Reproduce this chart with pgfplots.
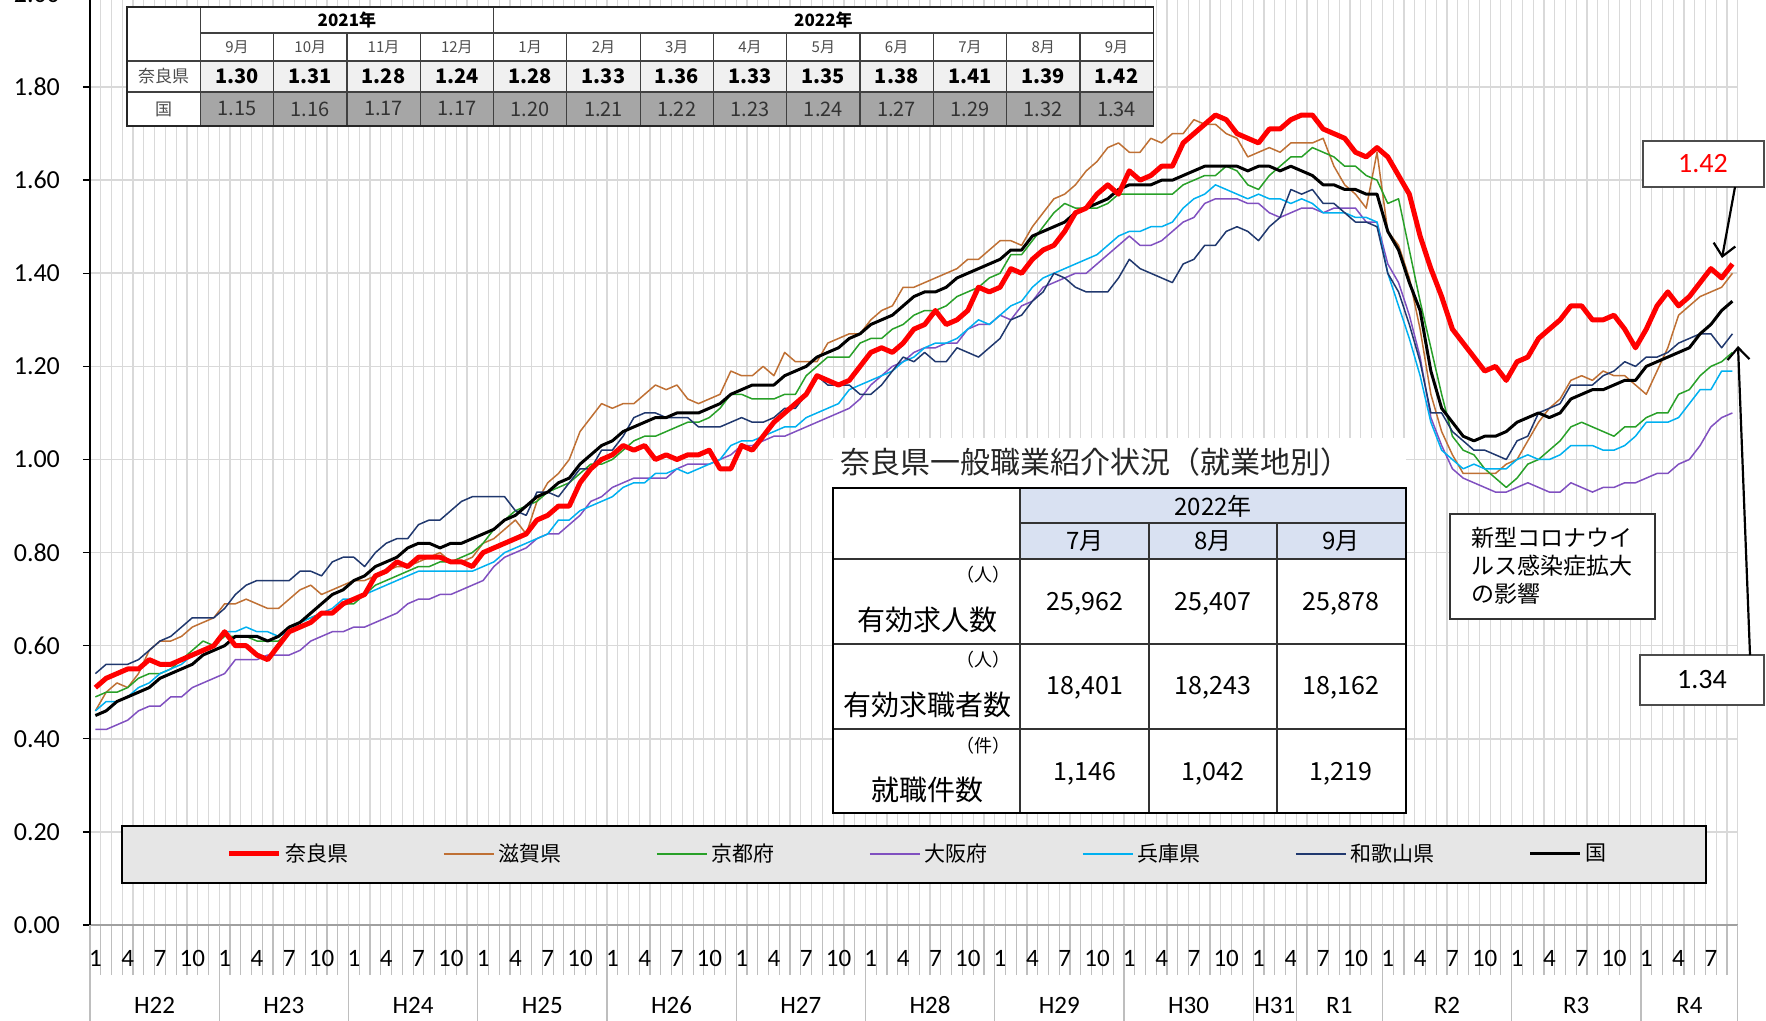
\documentclass[border=0pt]{standalone}
\usepackage{fontspec}
\setmainfont{Carlito}
\newfontfamily\jp{Noto Sans CJK JP}
\usepackage{pgfplots}
\pgfplotsset{compat=1.18}
\usepackage{pgfplotstable}
\usetikzlibrary{arrows.meta}

\definecolor{naracol}{RGB}{255,0,0}
\definecolor{shigacol}{RGB}{191,112,52}
\definecolor{kyotocol}{RGB}{40,160,40}
\definecolor{osakacol}{RGB}{128,80,192}
\definecolor{hyogocol}{RGB}{0,176,240}
\definecolor{wakacol}{RGB}{32,56,110}
\definecolor{gridgray}{RGB}{217,217,217}
\definecolor{axgray}{RGB}{160,160,160}
\definecolor{tickgray}{RGB}{190,190,190}
\definecolor{leggray}{RGB}{230,230,230}
\definecolor{hdrblue}{RGB}{217,225,242}
\definecolor{rowlight}{RGB}{240,240,240}
\definecolor{rowdark}{RGB}{166,166,166}

\pgfplotstableread{
nara shiga kyoto osaka hyogo waka kuni
0.51 0.46 0.49 0.42 0.46 0.54 0.45
0.53 0.50 0.50 0.42 0.48 0.56 0.46
0.54 0.52 0.50 0.43 0.48 0.56 0.48
0.55 0.51 0.51 0.44 0.49 0.56 0.49
0.55 0.54 0.53 0.46 0.51 0.57 0.50
0.57 0.59 0.54 0.47 0.52 0.59 0.51
0.56 0.61 0.54 0.47 0.54 0.61 0.53
0.56 0.61 0.55 0.49 0.55 0.62 0.54
0.57 0.62 0.57 0.49 0.56 0.64 0.55
0.58 0.64 0.59 0.51 0.58 0.66 0.56
0.59 0.65 0.61 0.52 0.59 0.66 0.58
0.60 0.66 0.60 0.53 0.60 0.66 0.59
0.63 0.69 0.62 0.54 0.63 0.68 0.60
0.60 0.69 0.62 0.57 0.63 0.71 0.62
0.60 0.70 0.62 0.57 0.64 0.73 0.62
0.58 0.69 0.61 0.57 0.63 0.74 0.62
0.57 0.68 0.61 0.58 0.63 0.74 0.61
0.60 0.68 0.61 0.58 0.62 0.74 0.62
0.63 0.70 0.63 0.58 0.63 0.74 0.64
0.64 0.72 0.65 0.59 0.65 0.76 0.65
0.65 0.73 0.66 0.61 0.66 0.76 0.67
0.67 0.71 0.67 0.62 0.67 0.75 0.69
0.67 0.72 0.67 0.63 0.68 0.78 0.71
0.69 0.73 0.69 0.63 0.70 0.79 0.72
0.70 0.74 0.69 0.64 0.70 0.79 0.74
0.71 0.74 0.71 0.64 0.71 0.77 0.75
0.75 0.75 0.73 0.65 0.72 0.80 0.77
0.76 0.76 0.74 0.66 0.73 0.82 0.78
0.78 0.77 0.75 0.67 0.74 0.83 0.79
0.77 0.77 0.76 0.69 0.75 0.83 0.81
0.79 0.78 0.77 0.70 0.76 0.86 0.82
0.79 0.79 0.77 0.70 0.76 0.87 0.82
0.79 0.80 0.78 0.71 0.76 0.87 0.81
0.78 0.78 0.78 0.71 0.76 0.89 0.82
0.78 0.78 0.79 0.72 0.76 0.91 0.82
0.77 0.79 0.80 0.73 0.76 0.92 0.83
0.80 0.82 0.82 0.74 0.77 0.92 0.84
0.81 0.83 0.85 0.77 0.78 0.92 0.85
0.82 0.85 0.87 0.79 0.80 0.92 0.87
0.83 0.87 0.89 0.80 0.81 0.89 0.88
0.84 0.84 0.90 0.81 0.82 0.88 0.90
0.87 0.91 0.91 0.83 0.83 0.93 0.92
0.88 0.95 0.93 0.84 0.84 0.93 0.93
0.90 0.97 0.94 0.84 0.87 0.92 0.95
0.90 1.00 0.95 0.86 0.87 0.95 0.96
0.95 1.06 0.97 0.88 0.89 0.98 0.99
0.98 1.09 0.99 0.91 0.90 0.98 1.01
1.00 1.12 0.99 0.92 0.91 1.02 1.03
1.01 1.11 1.00 0.94 0.92 1.02 1.04
1.03 1.12 1.02 0.95 0.94 1.05 1.06
1.02 1.12 1.04 0.96 0.95 1.09 1.07
1.03 1.14 1.05 0.96 0.95 1.10 1.08
1.00 1.16 1.05 0.96 0.97 1.10 1.09
1.01 1.15 1.06 0.96 0.97 1.09 1.09
1.00 1.16 1.07 0.98 0.98 1.09 1.10
1.01 1.13 1.08 0.99 0.97 1.09 1.10
1.01 1.12 1.08 0.99 0.98 1.07 1.10
1.02 1.13 1.09 0.99 0.99 1.07 1.11
0.98 1.14 1.11 1.00 1.00 1.07 1.12
0.98 1.19 1.14 1.01 1.03 1.08 1.14
1.03 1.18 1.14 1.03 1.04 1.09 1.15
1.02 1.18 1.13 1.03 1.04 1.08 1.16
1.05 1.20 1.13 1.04 1.05 1.08 1.16
1.08 1.18 1.13 1.05 1.06 1.09 1.16
1.10 1.23 1.14 1.05 1.07 1.11 1.18
1.12 1.21 1.14 1.06 1.07 1.11 1.19
1.14 1.21 1.18 1.07 1.09 1.14 1.20
1.18 1.21 1.20 1.08 1.10 1.18 1.22
1.17 1.25 1.22 1.09 1.11 1.16 1.23
1.16 1.26 1.22 1.10 1.12 1.16 1.24
1.17 1.27 1.22 1.11 1.15 1.16 1.26
1.20 1.27 1.25 1.13 1.16 1.14 1.27
1.23 1.30 1.26 1.16 1.17 1.14 1.29
1.24 1.32 1.26 1.18 1.18 1.16 1.30
1.23 1.33 1.28 1.20 1.19 1.19 1.31
1.25 1.37 1.29 1.21 1.21 1.22 1.33
1.28 1.37 1.31 1.23 1.22 1.21 1.35
1.29 1.38 1.32 1.24 1.24 1.23 1.36
1.32 1.39 1.32 1.24 1.25 1.21 1.36
1.29 1.40 1.33 1.25 1.25 1.21 1.37
1.30 1.41 1.35 1.25 1.26 1.24 1.39
1.32 1.43 1.36 1.28 1.28 1.23 1.40
1.37 1.43 1.37 1.29 1.30 1.22 1.41
1.36 1.45 1.39 1.29 1.29 1.24 1.42
1.37 1.47 1.40 1.31 1.31 1.26 1.43
1.41 1.47 1.44 1.30 1.33 1.30 1.45
1.40 1.46 1.44 1.33 1.34 1.31 1.45
1.43 1.50 1.47 1.34 1.37 1.34 1.48
1.45 1.53 1.50 1.37 1.39 1.36 1.49
1.46 1.56 1.53 1.38 1.40 1.40 1.50
1.49 1.57 1.55 1.39 1.41 1.39 1.51
1.53 1.59 1.54 1.40 1.42 1.37 1.53
1.54 1.62 1.54 1.40 1.43 1.36 1.54
1.57 1.64 1.54 1.42 1.44 1.36 1.55
1.59 1.67 1.55 1.44 1.46 1.36 1.56
1.57 1.68 1.57 1.46 1.48 1.39 1.58
1.62 1.66 1.57 1.48 1.49 1.43 1.59
1.60 1.66 1.57 1.46 1.49 1.41 1.59
1.61 1.69 1.57 1.46 1.50 1.40 1.59
1.63 1.68 1.57 1.47 1.50 1.39 1.60
1.63 1.70 1.57 1.49 1.51 1.38 1.60
1.68 1.70 1.59 1.51 1.54 1.42 1.61
1.70 1.73 1.60 1.52 1.56 1.43 1.62
1.72 1.72 1.61 1.55 1.57 1.46 1.63
1.74 1.72 1.61 1.56 1.59 1.46 1.63
1.73 1.70 1.63 1.56 1.58 1.49 1.63
1.70 1.69 1.62 1.56 1.57 1.50 1.63
1.69 1.65 1.59 1.55 1.56 1.49 1.62
1.68 1.66 1.58 1.55 1.57 1.47 1.63
1.71 1.67 1.61 1.53 1.56 1.50 1.63
1.71 1.66 1.63 1.52 1.56 1.52 1.62
1.73 1.68 1.65 1.53 1.55 1.58 1.63
1.74 1.68 1.65 1.54 1.56 1.57 1.62
1.74 1.68 1.67 1.54 1.55 1.58 1.61
1.71 1.69 1.66 1.53 1.53 1.55 1.59
1.70 1.63 1.65 1.54 1.53 1.55 1.59
1.69 1.59 1.63 1.54 1.53 1.53 1.58
1.66 1.57 1.63 1.54 1.52 1.51 1.58
1.65 1.54 1.61 1.51 1.52 1.51 1.57
1.67 1.66 1.60 1.51 1.51 1.50 1.57
1.65 1.49 1.55 1.42 1.40 1.40 1.49
1.61 1.46 1.56 1.38 1.33 1.36 1.45
1.57 1.39 1.45 1.31 1.26 1.29 1.38
1.48 1.28 1.34 1.22 1.18 1.21 1.32
1.41 1.14 1.24 1.09 1.08 1.10 1.19
1.35 1.06 1.14 1.03 1.02 1.10 1.11
1.28 1.01 1.05 0.98 1.00 1.06 1.08
1.25 0.97 1.02 0.96 0.98 1.04 1.05
1.22 0.97 1.01 0.95 0.99 1.02 1.04
1.19 0.97 0.98 0.94 0.98 1.02 1.05
1.20 0.97 0.96 0.93 0.98 1.01 1.05
1.17 0.99 0.94 0.93 0.98 1.00 1.06
1.21 1.00 0.96 0.94 1.00 1.04 1.08
1.22 1.04 0.99 0.95 1.01 1.05 1.09
1.26 1.08 1.00 0.94 1.00 1.10 1.10
1.28 1.11 1.02 0.93 1.00 1.11 1.09
1.30 1.13 1.04 0.93 1.01 1.12 1.10
1.33 1.17 1.07 0.95 1.03 1.16 1.13
1.33 1.18 1.08 0.94 1.03 1.16 1.14
1.30 1.17 1.07 0.93 1.03 1.16 1.15
1.30 1.19 1.06 0.94 1.02 1.18 1.15
1.31 1.18 1.05 0.94 1.02 1.19 1.16
1.28 1.18 1.07 0.95 1.03 1.21 1.17
1.24 1.16 1.07 0.95 1.05 1.20 1.17
1.28 1.14 1.09 0.96 1.08 1.22 1.20
1.33 1.19 1.10 0.97 1.08 1.22 1.21
1.36 1.24 1.10 0.97 1.08 1.23 1.22
1.33 1.31 1.14 0.99 1.09 1.25 1.23
1.35 1.33 1.15 1.00 1.12 1.26 1.24
1.38 1.35 1.18 1.03 1.15 1.27 1.27
1.41 1.36 1.20 1.07 1.15 1.27 1.29
1.39 1.37 1.21 1.09 1.19 1.24 1.32
1.42 1.40 1.23 1.10 1.19 1.27 1.34
}\ratios

\begin{document}
\begin{tikzpicture}
\begin{axis}[
  at={(0,0)}, anchor=south west,
  scale only axis, width=823.9pt, height=465.5pt,
  xmin=0, xmax=153, ymin=0, ymax=2,
  axis x line*=bottom, axis y line*=left,
  x axis line style={draw=axgray, line width=1pt, -},
  y axis line style={draw=black, line width=0.7pt, -},
  ytick={0,0.2,0.4,0.6,0.8,1.0,1.2,1.4,1.6,1.8,2.0},
  /pgf/number format/.cd, fixed, fixed zerofill, precision=2, assume math mode=true, /pgfplots/.cd,
  yticklabel style={font=\fontsize{13}{15}\selectfont, xshift=-8pt},
  ymajorgrids, major grid style={draw=gridgray, line width=0.8pt},
  xtick={0.5,3.5,...,150.5},
  xticklabels={1,4,7,10,1,4,7,10,1,4,7,10,1,4,7,10,1,4,7,10,1,4,7,10,1,4,7,10,1,4,7,10,1,4,7,10,1,4,7,10,1,4,7,10,1,4,7,10,1,4,7},
  xticklabel style={font=\fontsize{12.5}{14}\selectfont, anchor=center, yshift=-13pt},
  minor xtick={0,1,...,153},
  xminorgrids, minor grid style={draw=gridgray, line width=0.6pt},
  tick align=outside, major tick length=3.5pt, minor tick length=25pt,
  major x tick style={draw=none},
  minor x tick style={draw=tickgray, line width=0.6pt},
  ytick style={draw=black, line width=0.7pt},
  every axis plot/.append style={line join=round},
  legend columns=7,
  legend cell align=left,
  legend image code/.code={\draw[#1] (0pt,0pt) -- (25pt,0pt);},
  legend style={at={(0.503,0.0763)}, anchor=center, draw=none, fill=none,
    font=\jp\fontsize{10.5}{12}\selectfont,
    /tikz/every even column/.append style={column sep=45pt}},
]
\draw[fill=leggray, draw=black, line width=1pt] (axis cs:2.97,0.2127) rectangle (axis cs:150.05,0.0902);

\addplot[shigacol, line width=0.75pt, forget plot] table[x expr=\coordindex+0.5, y=shiga]{\ratios};
\addplot[kyotocol, line width=0.75pt, forget plot] table[x expr=\coordindex+0.5, y=kyoto]{\ratios};
\addplot[osakacol, line width=0.75pt, forget plot] table[x expr=\coordindex+0.5, y=osaka]{\ratios};
\addplot[hyogocol, line width=0.75pt, forget plot] table[x expr=\coordindex+0.5, y=hyogo]{\ratios};
\addplot[wakacol, line width=0.75pt, forget plot] table[x expr=\coordindex+0.5, y=waka]{\ratios};
\addplot[black, line width=1.5pt, forget plot] table[x expr=\coordindex+0.5, y=kuni]{\ratios};
\addplot[naracol, line width=2.5pt, forget plot] table[x expr=\coordindex+0.5, y=nara]{\ratios};

\addlegendimage{naracol, line width=2.5pt}\addlegendentry{奈良県}
\addlegendimage{shigacol, line width=1pt}\addlegendentry{滋賀県}
\addlegendimage{kyotocol, line width=1pt}\addlegendentry{京都府}
\addlegendimage{osakacol, line width=1pt}\addlegendentry{大阪府}
\addlegendimage{hyogocol, line width=1pt}\addlegendentry{兵庫県}
\addlegendimage{wakacol, line width=1pt}\addlegendentry{和歌山県}
\addlegendimage{black, line width=1.5pt}\addlegendentry{国}
\end{axis}

\begin{scope}[shift={(-45pt,462.5pt)}, x=0.5pt, y=-0.5pt]
  % year separators and labels below the axis
  \foreach \k in {0,12,24,36,48,60,72,84,96,108,112,120,132,144,153}
    \draw[tickgray, line width=0.6pt] ({90+10.77*\k},925) -- ({90+10.77*\k},1021);
  \foreach \c/\t in {6/H22,18/H23,30/H24,42/H25,54/H26,66/H27,78/H28,90/H29,102/H30,110/H31,116/R1,126/R2,138/R3,148.5/R4}
    \node[font=\fontsize{12.5}{14}\selectfont, inner sep=1pt] at ({90+10.77*\c},1005) {\t};

  % top summary table
  \fill[white] (127,7) rectangle (1153.2,126);
  \fill[rowlight] (200.3,61) rectangle (1153.2,92);
  \fill[rowdark] (200.3,92) rectangle (1153.2,126);
  \draw[black!75, line width=0.6pt] (127,61) -- (1153.2,61);
  \draw[black!75, line width=0.6pt] (127,92) -- (1153.2,92);
  \draw[black!75, line width=0.6pt] (200.3,33) -- (1153.2,33);
  \draw[black!75, line width=0.6pt] (200.3,7) -- (200.3,126);
  \draw[black!75, line width=0.6pt] (493.5,7) -- (493.5,126);
  \foreach \k in {2,3,4,6,7,8,9,10,11,12,13}
    \draw[black!75, line width=0.6pt] ({127+73.3*\k},33) -- ({127+73.3*\k},126);
  \draw[black!85, line width=0.7pt] (127,7) rectangle (1153.2,126);
  \node[font=\jp\bfseries\fontsize{8.5}{10}\selectfont] at (346.9,20) {2021年};
  \node[font=\jp\bfseries\fontsize{8.5}{10}\selectfont] at (823.4,20) {2022年};
  \foreach \m [count=\k] in {9月,10月,11月,12月,1月,2月,3月,4月,5月,6月,7月,8月,9月}
    \node[font=\jp\fontsize{7.5}{9}\selectfont, text=black!70] at ({127+73.3*\k+36.65},47) {\m};
  \foreach \v [count=\k] in {1.30,1.31,1.28,1.24,1.28,1.33,1.36,1.33,1.35,1.38,1.41,1.39,1.42}
    \node[font=\jp\bfseries\fontsize{10}{12}\selectfont] at ({127+73.3*\k+36.65},76.5) {\v};
  \foreach \v [count=\k] in {1.15,1.16,1.17,1.17,1.20,1.21,1.22,1.23,1.24,1.27,1.29,1.32,1.34}
    \node[font=\jp\fontsize{10}{12}\selectfont, text=black!80] at ({127+73.3*\k+36.65},109) {\v};
  \node[font=\jp\fontsize{8.5}{10}\selectfont, text=black!70] at (163.6,76.5) {奈良県};
  \node[font=\jp\fontsize{8.5}{10}\selectfont, text=black!70] at (163.6,109) {国};

  % inner table
  \fill[white] (833,438) rectangle (1406,813);
  \node[font=\jp\fontsize{15}{17}\selectfont, text=black!85] at (1095,462) {奈良県一般職業紹介状況（就業地別）};
  \fill[hdrblue] (1020,488) rectangle (1406,559);
  \draw[black!80, line width=0.6pt] (1020,523) -- (1406,523);
  \draw[black!80, line width=0.6pt] (833,559) -- (1406,559);
  \draw[black!80, line width=0.6pt] (833,644) -- (1406,644);
  \draw[black!80, line width=0.6pt] (833,729) -- (1406,729);
  \draw[black!80, line width=0.6pt] (1020,488) -- (1020,813);
  \draw[black!80, line width=0.6pt] (1149,523) -- (1149,813);
  \draw[black!80, line width=0.6pt] (1277,523) -- (1277,813);
  \draw[black, line width=1pt] (833,488) rectangle (1406,813);
  \node[font=\jp\fontsize{12}{14}\selectfont] at (1213,506) {2022年};
  \node[font=\jp\fontsize{12}{14}\selectfont] at (1085,541) {7月};
  \node[font=\jp\fontsize{12}{14}\selectfont] at (1213,541) {8月};
  \node[font=\jp\fontsize{12}{14}\selectfont] at (1341,541) {9月};
  \foreach \x/\v in {1085/{25,962},1213/{25,407},1341/{25,878}}
    \node[font=\jp\fontsize{12.5}{14}\selectfont] at (\x,604) {\v};
  \foreach \x/\v in {1085/{18,401},1213/{18,243},1341/{18,162}}
    \node[font=\jp\fontsize{12.5}{14}\selectfont] at (\x,688) {\v};
  \foreach \x/\v in {1085/{1,146},1213/{1,042},1341/{1,219}}
    \node[font=\jp\fontsize{12.5}{14}\selectfont] at (\x,774) {\v};
  \node[font=\jp\fontsize{9}{10}\selectfont, anchor=east] at (1018,575) {（人）};
  \node[font=\jp\fontsize{9}{10}\selectfont, anchor=east] at (1018,660) {（人）};
  \node[font=\jp\fontsize{9}{10}\selectfont, anchor=east] at (1018,746) {（件）};
  \node[font=\jp\fontsize{14}{16}\selectfont] at (927,620) {有効求人数};
  \node[font=\jp\fontsize{14}{16}\selectfont] at (927,705) {有効求職者数};
  \node[font=\jp\fontsize{14}{16}\selectfont] at (927,790) {就職件数};

  % corona note
  \draw[fill=white, draw=black!80, line width=0.6pt] (1450,514) rectangle (1655,619);
  \node[font=\jp\fontsize{11.5}{13}\selectfont, anchor=west] at (1464,538) {新型コロナウイ};
  \node[font=\jp\fontsize{11.5}{13}\selectfont, anchor=west] at (1464,566) {ルス感染症拡大};
  \node[font=\jp\fontsize{11.5}{13}\selectfont, anchor=west] at (1464,594) {の影響};

  % value call-outs
  \draw[fill=white, draw=black!70, line width=0.6pt] (1643,141) rectangle (1764,187);
  \node[font=\fontsize{14}{16}\selectfont, text=red] at (1703,164) {1.42};
  \draw[-{Straight Barb[length=6pt,width=11pt]}, line width=1.1pt] (1735,187) -- (1722,258);
  \draw[fill=white, draw=black!70, line width=0.6pt] (1640,655) rectangle (1764,705);
  \node[font=\fontsize{14}{16}\selectfont] at (1702,680) {1.34};
  \draw[-{Straight Barb[length=6pt,width=11pt]}, line width=1.1pt] (1750,655) -- (1738,346);
\end{scope}
\pgfresetboundingbox
\useasboundingbox (-45pt,-48pt) rectangle (838pt,462.5pt);
\end{tikzpicture}
\end{document}
